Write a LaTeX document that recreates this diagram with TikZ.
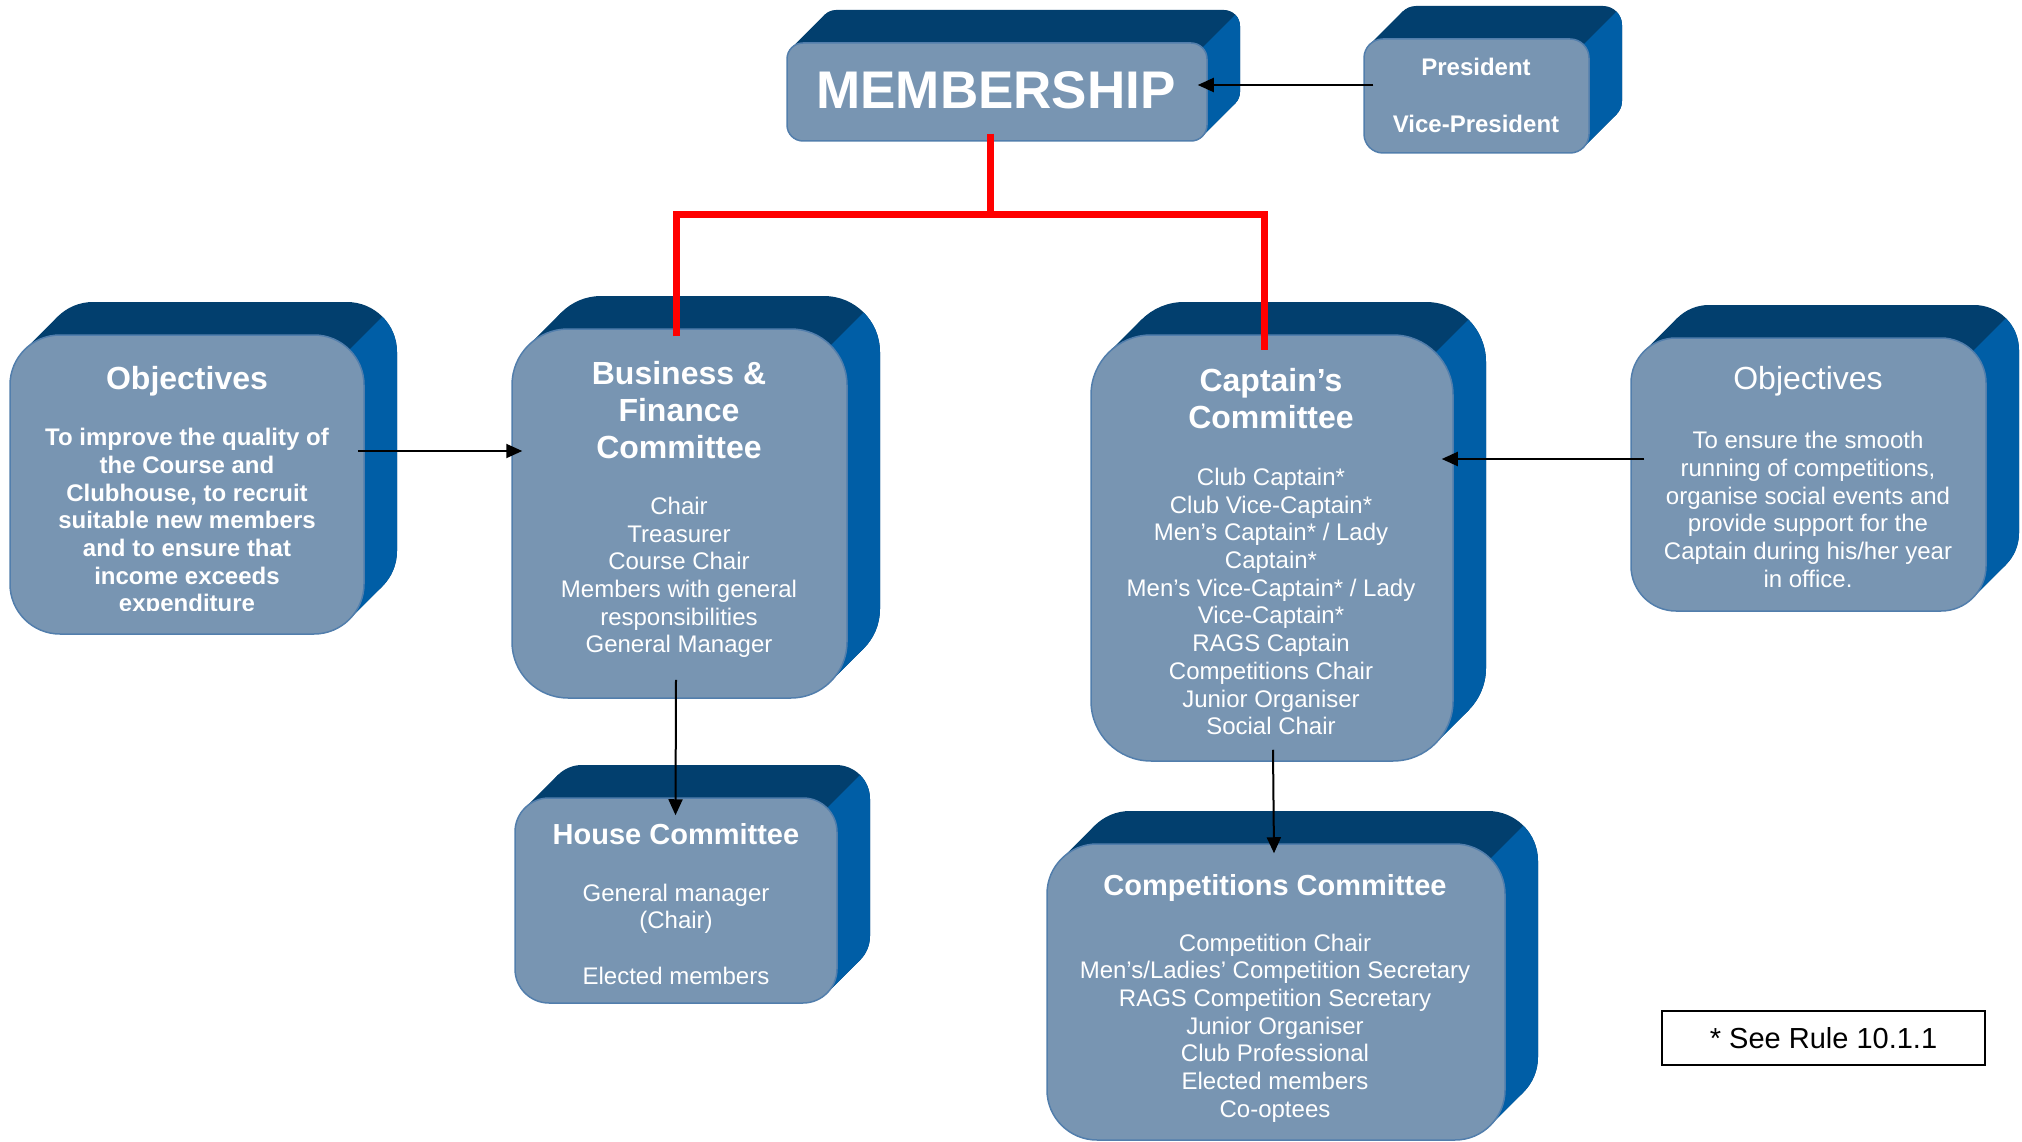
\documentclass[tikz,border=0pt]{standalone}
\usepackage{fontspec}
\setmainfont{Liberation Sans}
\usetikzlibrary{arrows.meta,calc}

\definecolor{facefill}{RGB}{120,149,178}
\definecolor{faceedge}{RGB}{82,126,172}
\definecolor{topfill}{RGB}{2,63,110}
\definecolor{sidefill}{RGB}{0,94,166}
\definecolor{linkred}{RGB}{255,0,0}

% depth of the extruded boxes
\newcommand{\sbdepth}{33}

% \solidbox{name}{x1}{y1}{x2}{y2}{corner radius}: rounded box pushed back up and to the right
\newcommand{\solidbox}[6]{%
  \pgfmathsetmacro{\sbk}{0.2929*#6}%
  % top face: back outline and the band swept between the two outlines
  \fill[topfill, rounded corners=#6] (#2+\sbdepth,#3-\sbdepth) rectangle (#4+\sbdepth,#5-\sbdepth);
  \fill[topfill] (#2+\sbk,#3+\sbk) -- ++(\sbdepth,-\sbdepth) -- (#4-\sbk+\sbdepth,#5-\sbk-\sbdepth) -- (#4-\sbk,#5-\sbk) -- cycle;
  % side face: everything beyond the diagonal through the upper right corner
  \begin{scope}
    \clip[rounded corners=#6] (#2+\sbdepth,#3-\sbdepth) rectangle (#4+\sbdepth,#5-\sbdepth);
    \fill[sidefill] (#4-\sbk,#3+\sbk) ++(-700,700) -- ++(1400,-1400) -- ++(700,700) -- ++(-1400,1400) -- cycle;
  \end{scope}
  \begin{scope}
    \clip (#2+\sbk,#3+\sbk) -- ++(\sbdepth,-\sbdepth) -- (#4-\sbk+\sbdepth,#5-\sbk-\sbdepth) -- (#4-\sbk,#5-\sbk) -- cycle;
    \fill[sidefill] (#4-\sbk,#3+\sbk) ++(-700,700) -- ++(1400,-1400) -- ++(700,700) -- ++(-1400,1400) -- cycle;
  \end{scope}
  % front face
  \node[frontface, rounded corners=#6, minimum width={#4-#2}, minimum height={#5-#3}] (#1) at ({(#2+#4)/2},{(#3+#5)/2}) {};
}

\tikzset{
  frontface/.style={fill=facefill, draw=faceedge, line width=1.5pt, inner sep=0pt},
  txt/.style={text=white, align=center, inner sep=0pt},
  bigtitle/.style={txt, font=\fontsize{32}{37}\selectfont\bfseries},
  midtitle/.style={txt, font=\fontsize{29}{34}\selectfont\bfseries},
  bodytext/.style={txt, font=\fontsize{24}{27.7}\selectfont},
  boldbody/.style={txt, font=\fontsize{24}{27.7}\selectfont\bfseries},
  arr/.style={draw=black, line width=2pt, -{Triangle[length=16pt,width=14pt]}},
  redlink/.style={draw=linkred, line width=7pt, line join=miter}
}

\begin{document}
\begin{tikzpicture}[x=1pt,y=-1pt]
\useasboundingbox[fill=white] (0,0) rectangle (2022,1142);

% boxes
\solidbox{mem}{787}{43}{1207}{141}{16}
\solidbox{pres}{1364}{39}{1589}{153}{19}
\solidbox{objL}{10}{335}{364}{634}{50}
\solidbox{bf}{512}{329}{847}{698}{56}
\solidbox{cap}{1091}{335}{1453}{761}{60}
\solidbox{objR}{1631}{338}{1986}{611}{45}
\solidbox{house}{515}{798}{837}{1003}{34}
\solidbox{comp}{1047}{844}{1505}{1140}{50}

% red links from the membership
\draw[redlink] ($(mem.south)+(-7,-8)$) -- ($(mem.south)+(-7,73)$) coordinate (jn);
\draw[redlink] ($(bf.north)+(-3,8)$) |- (jn) -| ($(cap.north)+(-8,16)$);

% texts
\node[txt, font=\fontsize{53}{60}\selectfont\bfseries] (memt) at (996,90) {MEMBERSHIP};
\node[txt, font=\fontsize{24}{28}\selectfont\bfseries] (prest) at (1476,67) {President};
\node[txt, font=\fontsize{24}{28}\selectfont\bfseries] (vpt) at (1476,124) {Vice-President};

\node[bigtitle] (objLt) at (187,381) {Objectives};
\begin{scope}
  \clip (0,0) rectangle (2022,610);
  \node[boldbody] (objLb) at (187,522.5) {To improve the quality of\\the Course and\\Clubhouse, to recruit\\suitable new members\\and to ensure that\\income exceeds\\expenditure};
\end{scope}

\node[bigtitle] (bft) at (679,410) {Business \&\\Finance\\Committee};
\node[bodytext] (bfb) at (679,577.5) {Chair\\Treasurer\\Course Chair\\Members with general\\responsibilities\\General Manager};

\node[bigtitle] (capt) at (1271,399) {Captain’s\\Committee};
\node[bodytext] (capb) at (1271,601.5) {Club Captain*\\Club Vice-Captain*\\Men’s Captain* / Lady\\Captain*\\Men’s Vice-Captain* / Lady\\Vice-Captain*\\RAGS Captain\\Competitions Chair\\Junior Organiser\\Social Chair};

\node[txt, font=\fontsize{32}{37}\selectfont] (objRt) at (1808,381.5) {Objectives};
\node[bodytext] (objRb) at (1808,509.5) {To ensure the smooth\\running of competitions,\\organise social events and\\provide support for the\\Captain during his/her year\\in office.};

\node[midtitle] (houset) at (676,834) {House Committee};
\node[bodytext] (houseb) at (676,934) {General manager\\(Chair)\\\mbox{}\\Elected members};

\node[midtitle] (compt) at (1275,887.5) {Competitions Committee};
\node[bodytext] (compb) at (1275,1028) {Competition Chair\\Men’s/Ladies’ Competition Secretary\\RAGS Competition Secretary\\Junior Organiser\\Club Professional\\Elected members\\Co-optees};

% footnote
\node[draw=black, line width=1.5pt, minimum width=323, minimum height=54, inner sep=0pt,
      font=\fontsize{29}{33}\selectfont] (note) at (1823.5,1038) {* See Rule 10.1.1};

% black arrows
\draw[arr] ($(pres.west)+(10,-11)$) -- ($(mem.east)+(-10,-7)$);
\draw[arr] ($(objL.east)+(-7,-33.5)$) -- ($(bf.west)+(11,-62.5)$);
\draw[arr] ($(objR.west)+(14,-15.5)$) -- ($(cap.east)+(-12,-89)$);
\draw[arr] ($(bf.south)+(-3.5,-19)$) -- ($(house.north)+(-0.5,18)$);
\draw[arr] ($(cap.south)+(1,-12)$) -- ($(comp.north)+(-2,10)$);
\end{tikzpicture}
\end{document}
